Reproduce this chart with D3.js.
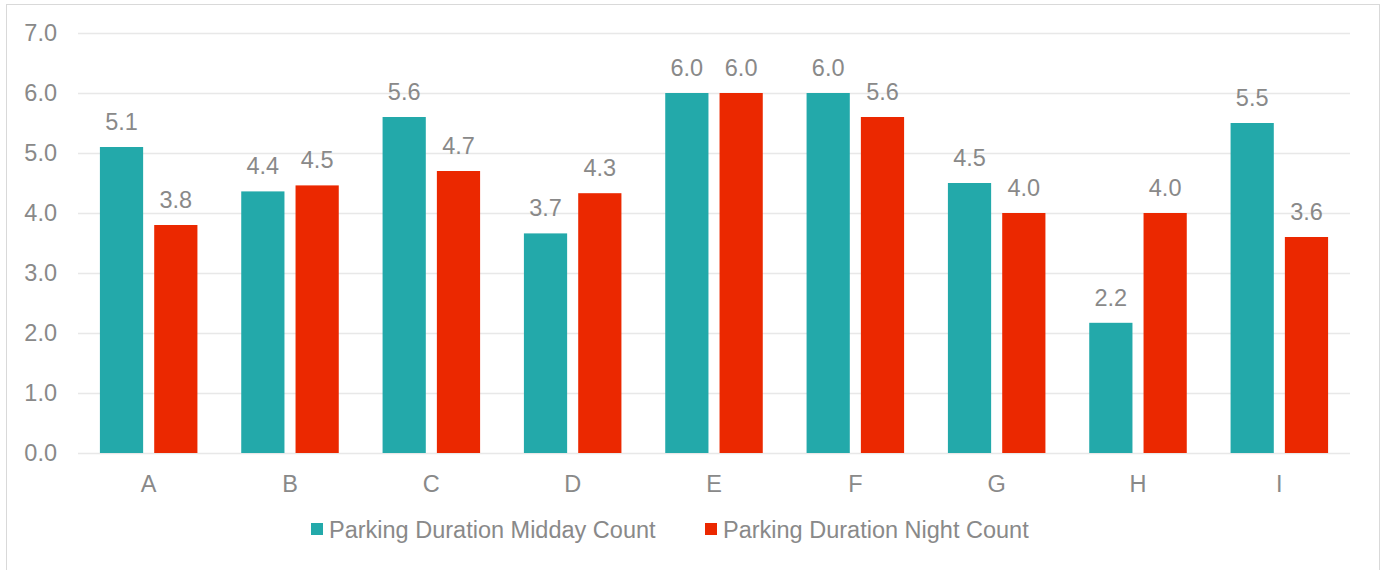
<!DOCTYPE html>
<html>
<head>
<meta charset="utf-8">
<script src="https://cdn.jsdelivr.net/npm/d3@7"></script>
<style>
  body { margin: 0; background: #fff; }
  svg text { font-family: "Liberation Sans", Arial, sans-serif; fill: #898989; }
</style>
</head>
<body>
<div id="chart"></div>
<script>
// Parking duration, midday vs night, by zone

const categories = ["A", "B", "C", "D", "E", "F", "G", "H", "I"];
const seriesNames = ["Parking Duration Midday Count", "Parking Duration Night Count"];
const middayValues = [5.1, 4.36, 5.6, 3.66, 6.0, 6.0, 4.5, 2.17, 5.5];
const nightValues = [3.8, 4.46, 4.7, 4.33, 6.0, 5.6, 4.0, 4.0, 3.6];
const yTicks = [0, 1, 2, 3, 4, 5, 6, 7];

const colors = ["#23a9aa", "#eb2800"];
const W = 1385, H = 570;
const margin = { top: 33, right: 35, bottom: 117, left: 78 };
const fontSize = 23.5;

const svg = d3.select("#chart").
append("svg").
attr("width", W).
attr("height", H);

// chart frame
svg.append("rect").
attr("x", 6.5).
attr("y", 4.5).
attr("width", 1373).
attr("height", 580).
attr("fill", "#fff").
attr("stroke", "#d9d9d9");

const x0 = d3.scaleBand().
domain(categories).
range([margin.left, W - margin.right]).
paddingInner(0.31).
paddingOuter(0.155);

const x1 = d3.scaleBand().
domain([0, 1]).
range([0, x0.bandwidth()]).
paddingInner(0.204);

const y = d3.scaleLinear().
domain([0, 7]).
range([H - margin.bottom, margin.top]);

// gridlines
svg.append("g").
selectAll("line").
data(yTicks).
join("line").
attr("x1", margin.left).
attr("x2", W - margin.right).
attr("y1", d => Math.round(y(d)) + 0.5).
attr("y2", d => Math.round(y(d)) + 0.5).
attr("stroke", "#e8e8e8").
attr("stroke-width", 1.5);

// y tick labels
svg.append("g").
selectAll("text").
data(yTicks).
join("text").
attr("x", margin.left - 21).
attr("y", d => y(d)).
attr("dy", "0.36em").
attr("text-anchor", "end").
style("font-size", fontSize + "px").
text(d => d.toFixed(1));

// x labels
svg.append("g").
selectAll("text").
data(categories).
join("text").
attr("x", d => x0(d) + x0.bandwidth() / 2).
attr("y", y(0) + 39).
attr("text-anchor", "middle").
style("font-size", fontSize + "px").
text(d => d);

const rows = categories.map((c, i) => ({ cat: c, vals: [middayValues[i], nightValues[i]] }));

const groups = svg.append("g").
selectAll("g").
data(rows).
join("g").
attr("transform", d => `translate(${x0(d.cat)},0)`);

groups.selectAll("rect").
data(d => d.vals.map((v, k) => ({ k, v }))).
join("rect").
attr("x", d => x1(d.k)).
attr("y", d => y(d.v)).
attr("width", x1.bandwidth()).
attr("height", d => y(0) - y(d.v)).
attr("fill", d => colors[d.k]);

groups.selectAll("text").
data(d => d.vals.map((v, k) => ({ k, v }))).
join("text").
attr("x", d => x1(d.k) + x1.bandwidth() / 2).
attr("y", d => y(d.v) - 17).
attr("text-anchor", "middle").
style("font-size", fontSize + "px").
text(d => d.v.toFixed(1));

// legend
const legendX = [311, 705];
const legend = svg.append("g").
selectAll("g").
data(seriesNames).
join("g").
attr("transform", (d, i) => `translate(${legendX[i]},523)`);

legend.append("rect").
attr("width", 12).
attr("height", 12).
attr("fill", (d, i) => colors[i]);

legend.append("text").
attr("x", 18).
attr("y", 15).
style("font-size", fontSize + "px").
text(d => d);
</script>
</body>
</html>
